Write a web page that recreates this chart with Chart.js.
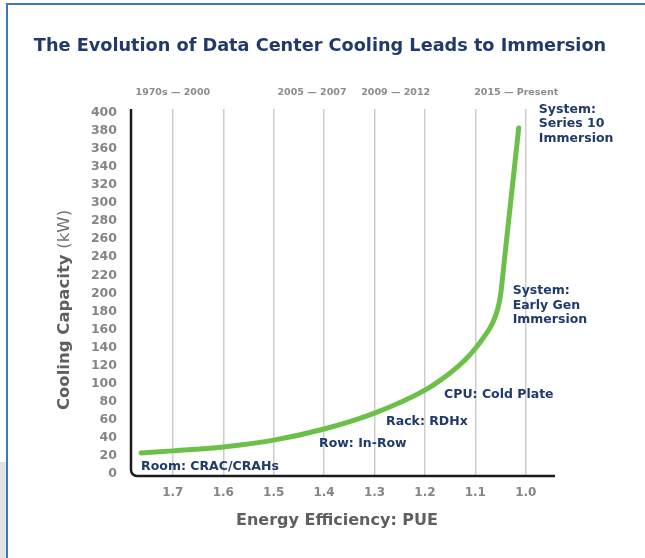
<!DOCTYPE html>
<html>
<head>
<meta charset="utf-8">
<script src="https://cdn.jsdelivr.net/npm/chart.js@4.4.1/dist/chart.umd.min.js"></script>
<style>
	html, body { margin: 0; padding: 0; background: #fff; }
	.wrap  { position: relative; width: 645px; height: 558px; overflow: hidden; }
	.frame { position: absolute; left: 6px; top: 3px; right: -10px; bottom: -10px;
	         border-left: 2px solid #3f75bf; border-top: 2px solid #3f75bf; }
	.side  { position: absolute; left: 0; top: 462px; width: 6px; height: 96px; background: #e2e3e5; }
	canvas { position: absolute; left: 0; top: 0; }
</style>
</head>
<body>
<div class="wrap">
	<div class="side"></div>
	<div class="frame"></div>
	<canvas id="coolingChart" width="645" height="558"></canvas>
</div>
<script>
/* ── 데이터 ── */
const pueValues      = [1.763, 1.70, 1.60, 1.50, 1.40, 1.30, 1.20, 1.15, 1.121, 1.10, 1.08, 1.066, 1.056, 1.05, 1.042, 1.014];
const capacityValues = [23.5,  25.8, 30.2, 37.7, 50,   67.6, 93,   112,  126,   139,  154,  167,   182,   198,  239,   383];
const xTicks = [1.7, 1.6, 1.5, 1.4, 1.3, 1.2, 1.1, 1.0];
const yTicks = [0, 20, 40, 60, 80, 100, 120, 140, 160, 180, 200, 220, 240, 260, 280, 300, 320, 340, 360, 380, 400];
const eraLabels = ['1970s — 2000', '2005 — 2007', '2009 — 2012', '2015 — Present'];
const stageLabels = [
	['Room: CRAC/CRAHs'],
	['Row: In-Row'],
	['Rack: RDHx'],
	['CPU: Cold Plate'],
	['System:', 'Early Gen', 'Immersion'],
	['System:', 'Series 10', 'Immersion']
];

/* ── 글자 위치 (데이터 좌표) ── */
const eraAt   = [1.7, 1.424, 1.258, 1.019];
const stageAt = [
	{ x: 1.763, y: 7.7 },
	{ x: 1.410, y: 33.2 },
	{ x: 1.277, y: 57.6 },
	{ x: 1.162, y: 87.5 },
	{ x: 1.026, y: 202.8 },
	{ x: 0.974, y: 403.3 }
];

const NAVY = '#1f3a6b';
const FONT = "'DejaVu Sans', sans-serif";

/* ── 제목, 축선, 라벨, 축 제목 ── */
const overlay = {
	id: 'overlay',
	afterDraw(chart) {
		const ctx = chart.ctx;
		const a = chart.chartArea;
		const sx = chart.scales.x, sy = chart.scales.y;

		ctx.save();
		ctx.textBaseline = 'middle';

		// 제목
		ctx.fillStyle = NAVY;
		ctx.font = 'bold 17.7px ' + FONT;
		ctx.textAlign = 'center';
		ctx.fillText('The Evolution of Data Center Cooling Leads to Immersion', 320, 46);

		// 축선 (왼쪽 아래 모서리 둥글게)
		const r = 6;
		ctx.strokeStyle = '#1b1b1b';
		ctx.lineWidth = 2.5;
		ctx.beginPath();
		ctx.moveTo(a.left, a.top);
		ctx.lineTo(a.left, a.bottom - r);
		ctx.arcTo(a.left, a.bottom, a.left + r, a.bottom, r);
		ctx.lineTo(a.right, a.bottom);
		ctx.stroke();

		// 연대 라벨
		ctx.fillStyle = '#8c8c8c';
		ctx.font = 'bold 9.5px ' + FONT;
		eraLabels.forEach(function(t, i) {
			ctx.fillText(t, sx.getPixelForValue(eraAt[i]), a.top - 16);
		});

		// 단계 라벨
		ctx.fillStyle = NAVY;
		ctx.font = 'bold 12.5px ' + FONT;
		ctx.textAlign = 'left';
		stageLabels.forEach(function(lines, i) {
			const px = sx.getPixelForValue(stageAt[i].x);
			const py = sy.getPixelForValue(stageAt[i].y);
			lines.forEach(function(t, j) {
				ctx.fillText(t, px, py + j * 14.5);
			});
		});

		// x축 제목
		ctx.fillStyle = '#5f5f5f';
		ctx.font = 'bold 16px ' + FONT;
		ctx.textAlign = 'center';
		ctx.fillText('Energy Efficiency: PUE', 337, 521);

		// y축 제목 (굵게 + 보통)
		ctx.translate(65, 310);
		ctx.rotate(-Math.PI / 2);
		const boldPart = 'Cooling Capacity ';
		const thinPart = '(kW)';
		ctx.font = 'bold 16.5px ' + FONT;
		const w1 = ctx.measureText(boldPart).width;
		ctx.font = '16.5px ' + FONT;
		const w2 = ctx.measureText(thinPart).width;
		ctx.textAlign = 'left';
		ctx.font = 'bold 16.5px ' + FONT;
		ctx.fillText(boldPart, -(w1 + w2) / 2, 0);
		ctx.fillStyle = '#707070';
		ctx.font = '16.5px ' + FONT;
		ctx.fillText(thinPart, -(w1 + w2) / 2 + w1, 0);
		ctx.restore();
	}
};

/* ── 차트 ── */
const ctx = document.getElementById('coolingChart').getContext('2d');
new Chart(ctx, {
	type: 'line',
	data: {
		datasets: [{
			data: pueValues.map(function(v, i) { return { x: v, y: capacityValues[i] }; }),
			borderColor: '#6cc04a',
			borderWidth: 5,
			borderCapStyle: 'round',
			pointRadius: 0,
			cubicInterpolationMode: 'monotone',
			fill: false
		}]
	},
	options: {
		responsive: false,
		devicePixelRatio: 1,
		animation: false,
		layout: { padding: { left: 0, right: 90, top: 109, bottom: 0 } },
		plugins: {
			legend: { display: false },
			tooltip: { enabled: false },
			title: { display: false }
		},
		scales: {
			x: {
				type: 'linear',
				reverse: true,
				min: 0.942,
				max: 1.783,
				afterBuildTicks: function(s) { s.ticks = xTicks.map(function(v) { return { value: v }; }); },
				afterFit: function(s) { s.height = 82; },
				border: { display: false },
				grid: { color: '#cdcdcd', lineWidth: 1.5, drawTicks: false },
				ticks: {
					padding: 10,
					color: '#858585',
					font: { family: FONT, size: 12, weight: 'bold' },
					callback: function(v) { return v.toFixed(1); }
				}
			},
			y: {
				min: -2,
				max: 404,
				afterBuildTicks: function(s) { s.ticks = yTicks.map(function(v) { return { value: v }; }); },
				afterFit: function(s) { s.width = 131; },
				border: { display: false },
				grid: { display: false, drawTicks: false },
				ticks: {
					padding: 14,
					autoSkip: false,
					color: '#858585',
					font: { family: FONT, size: 12.5, weight: 'bold' }
				}
			}
		}
	},
	plugins: [overlay]
});
</script>
</body>
</html>
